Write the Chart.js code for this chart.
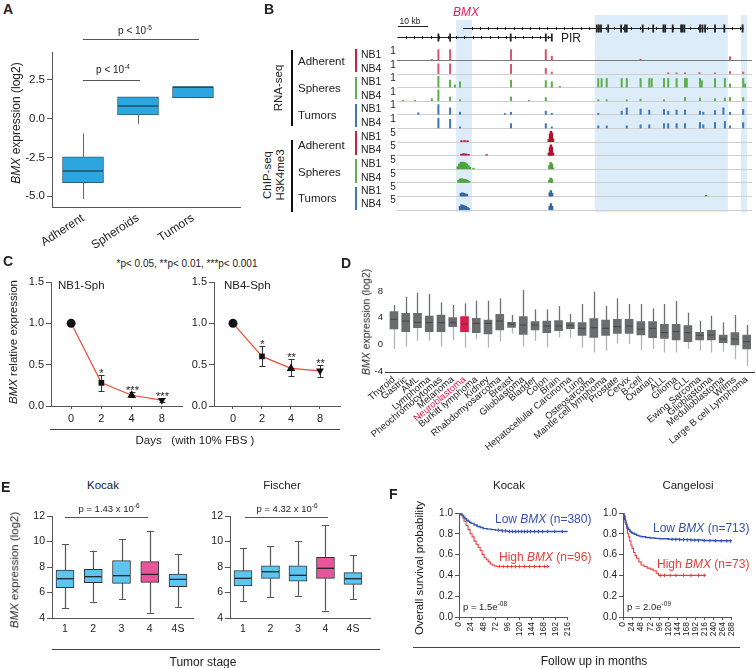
<!DOCTYPE html>
<html>
<head>
<meta charset="utf-8">
<script src="https://cdn.jsdelivr.net/npm/chart.js@4.4.0/dist/chart.umd.min.js"></script>
<style>
body{margin:0;background:#fff;}
#fig{position:relative;width:756px;height:668px;overflow:hidden;background:#fff;font-family:'Liberation Sans',Arial,sans-serif;color:#222;}
.t{position:absolute;white-space:nowrap;font-size:11px;line-height:1;color:#222;}
.t sup{font-size:6.5px;vertical-align:top;position:relative;top:-1px;}
canvas{position:absolute;}
</style>
</head>
<body>
<div id="fig"></div>
<script>
// ---------- panel A ----------
var aGroups = ['Adherent', 'Spheroids', 'Tumors'];
var aQ1 = [-4.14, 0.24, 1.36];
var aQ3 = [-2.46, 1.42, 2.07];
var aMed = [-3.38, 0.82, 2.03];
var aLo = [-5.2, -0.36, 1.32];
var aHi = [-0.95, 1.42, 2.1];
var aTicks = [-5, -2.5, 0, 2.5];

// ---------- panel B (kb, relative height) ----------
var shadeRegions = [[19.7, 25.0], [66.0, 110.3], [114.7, 116.7]];
var bmxExons = [66.6, 67.3, 68.0, 70.4, 74.7, 76.0, 76.6, 81.9, 85.4, 88.8, 89.4, 91.9, 94.7, 95.2, 95.8, 101.0, 101.8, 102.7, 106.0, 109.1, 115.2];
var pirExons = [13.8, 17.7, 37.9, 49.6, 51.6];
var rnaAdhNB1 = [[11.6,0.05],[13.8,0.95],[17.7,0.95],[38.0,0.95],[49.6,0.95],[51.6,0.35],[81.2,0.08],[111.0,0.3]];
var rnaAdhNB4 = [[13.8,0.9],[17.7,0.9],[38.0,0.85],[49.6,0.5],[51.6,0.15],[90.4,0.08],[93.2,0.08],[96.0,0.08],[100.8,0.1],[106.0,0.08],[111.0,0.2],[115.4,0.15]];
var rnaSphNB1 = [[13.8,1.0],[17.7,0.65],[19.3,0.2],[21.0,0.5],[38.0,0.65],[49.6,0.6],[51.6,0.5],[54.3,0.08],[67.1,0.8],[68.2,0.8],[69.9,0.8],[74.9,0.8],[76.6,0.8],[81.2,0.8],[84.1,0.8],[84.9,0.8],[89.0,0.8],[90.4,0.8],[93.2,0.8],[96.0,0.8],[96.6,0.8],[101.0,0.8],[101.6,0.6],[106.0,0.8],[109.3,0.8],[111.0,0.3],[115.4,0.8],[116.0,0.3]];
var rnaSphNB4 = [[2.0,0.05],[6.0,0.05],[11.6,0.2],[13.8,1.0],[17.7,0.35],[21.0,0.1],[38.0,0.35],[44.0,0.05],[49.6,0.3],[67.1,0.1],[69.9,0.1],[76.6,0.1],[81.2,0.15],[89.0,0.1],[96.0,0.3],[101.0,0.25],[106.0,0.2],[109.3,0.25],[111.0,0.3],[115.4,0.3]];
var rnaTumNB1 = [[7.1,0.15],[13.8,0.9],[17.7,0.6],[21.0,0.2],[36.0,0.08],[38.0,0.2],[49.6,0.3],[51.6,0.1],[67.1,0.1],[74.9,0.3],[76.6,0.6],[81.2,0.5],[84.1,0.4],[89.0,0.45],[90.4,0.3],[93.2,0.4],[96.0,0.4],[101.0,0.3],[102.1,0.2],[106.0,0.35],[108.8,0.6],[111.0,0.2],[115.4,0.45]];
var rnaTumNB4 = [[13.8,0.9],[17.7,0.8],[21.0,0.1],[38.0,0.4],[49.6,0.4],[51.6,0.1],[67.1,0.2],[69.9,0.2],[76.6,0.2],[81.2,0.3],[84.1,0.3],[89.0,0.4],[90.4,0.4],[93.2,0.4],[96.0,0.4],[101.0,0.5],[102.1,0.3],[106.0,0.5],[109.3,0.6],[111.0,0.2],[115.4,0.5]];
var chipAdhNB1 = [[21.5,0.08],[22.5,0.1],[23.5,0.08],[50.6,0.2],[51.0,0.7],[51.3,0.95],[51.6,0.8],[52.0,0.25]];
var chipAdhNB4 = [[21.5,0.1],[22.2,0.15],[23.0,0.12],[23.8,0.08],[29.9,0.05],[50.6,0.2],[51.0,0.7],[51.3,0.95],[51.6,0.75],[52.0,0.2]];
var chipSphNB1 = [[20.2,0.2],[20.8,0.45],[21.3,0.6],[21.8,0.62],[22.3,0.6],[22.8,0.55],[23.3,0.45],[23.8,0.3],[24.3,0.15],[25.5,0.05],[50.8,0.3],[51.2,0.6],[51.6,0.45],[52.0,0.1]];
var chipSphNB4 = [[20.5,0.2],[21.0,0.3],[21.5,0.35],[22.0,0.3],[22.5,0.28],[23.0,0.25],[23.5,0.2],[24.0,0.1],[50.8,0.2],[51.2,0.4],[51.6,0.3]];
var chipTumNB1 = [[21.3,0.25],[21.8,0.3],[22.3,0.25],[22.8,0.2],[23.3,0.15],[50.9,0.3],[51.3,0.5],[51.7,0.25],[103.0,0.05]];
var chipTumNB4 = [[21.0,0.3],[21.5,0.45],[22.0,0.4],[22.5,0.35],[23.0,0.3],[23.5,0.2],[24.0,0.1],[50.9,0.3],[51.3,0.55],[51.7,0.3]];

// ---------- panel C ----------
var cDays = ['0', '2', '4', '8'];
var nb1Mean = [1.0, 0.28, 0.13, 0.07];
var nb1Lo = [1.0, 0.18, 0.11, 0.052];
var nb1Hi = [1.0, 0.38, 0.165, 0.093];
var nb1Stars = ['', '*', '***', '***'];
var nb4Mean = [1.0, 0.60, 0.455, 0.425];
var nb4Lo = [1.0, 0.487, 0.36, 0.35];
var nb4Hi = [1.0, 0.72, 0.565, 0.495];
var nb4Stars = ['', '*', '**', '**'];
var cTicks = [0, 0.5, 1.0, 1.5];

// ---------- panel D ----------
var dLabels = ['Thyroid','Gastric','AML','Lymphoma','Pheochromocytomas','Melanoma','Neuroblastoma','Burkitt lymphoma','Kidney','Rhabdomyosarcoma','Breast','Glioblastoma','Bladder','Colon','Brain','Hepatocellular Carcinoma','Lung','Osteosarcoma','Mantle cell lymphoma','Prostate','Cervix','B-cell','Ovarian','ALL','Glioma','CLL','Ewing Sarcoma','Glioblastoma','Medulloblastoma','Wilms','Large B cell Lymphoma'];
var dHi = [5.9,7.15,7.75,7.55,6.3,5.9,6.15,6.55,6.55,6.9,4.4,8.15,5.25,5.25,5.75,4.55,6.05,7.9,5.75,6.9,6.05,6.05,5.4,6.05,6.5,4.75,3.55,4.3,3.3,4.4,2.9];
var dQ3 = [4.9,4.65,4.65,4.25,4.4,4.0,4.15,3.9,3.65,4.5,3.3,4.15,3.4,3.5,3.55,3.25,3.25,3.85,3.65,3.75,3.75,3.4,3.4,3.0,3.0,2.8,1.8,2.1,1.4,1.75,1.4];
var dMed = [3.75,3.5,3.3,3.25,3.25,3.25,3.05,3.15,3.15,3.5,3.05,2.9,2.9,2.75,2.75,2.85,2.4,2.5,2.4,2.65,2.75,2.25,2.4,1.75,1.9,1.75,1.35,1.4,0.8,0.8,0.4];
var dQ1 = [2.3,1.9,2.5,1.9,1.9,2.65,1.9,1.75,1.55,2.15,2.55,1.5,2.15,1.75,2.05,2.35,1.35,1.05,1.35,1.65,1.65,1.4,1.0,0.9,0.65,0.4,0.65,0.65,0.25,-0.1,-0.7];
var dLo = [-0.7,-0.35,0.55,0.55,-0.35,0.65,-0.5,0.75,-0.5,0.4,1.65,-0.35,0.5,-0.45,1.05,1.05,-0.5,-1.25,-0.95,0.15,0.05,-0.85,-0.7,-1.25,-1.25,-0.7,-0.95,-1.25,-1.1,-2.25,-3.25];
var dTicks = [-4, 0, 4, 8];

// ---------- panel E ----------
var eStages = ['1', '2', '3', '4', '4S'];
var kocakQ1 = [6.38, 6.77, 6.72, 6.80, 6.46];
var kocakQ3 = [7.76, 7.82, 8.50, 8.42, 7.45];
var kocakMed = [7.08, 7.24, 7.32, 7.42, 7.03];
var kocakLo = [4.78, 5.28, 5.46, 4.42, 4.89];
var kocakHi = [9.80, 9.28, 10.17, 10.85, 8.99];
var fischerQ1 = [6.51, 7.11, 6.88, 7.11, 6.64];
var fischerQ3 = [7.71, 8.10, 8.10, 8.76, 7.56];
var fischerMed = [7.11, 7.63, 7.35, 7.90, 7.08];
var fischerLo = [5.36, 5.62, 5.75, 4.58, 5.46];
var fischerHi = [9.46, 9.65, 10.01, 11.29, 8.94];
var eTicks = [4, 6, 8, 10, 12];

// ---------- panel F ----------
var kocakLowT = [0, 3, 6, 9, 12, 15, 18, 21, 24, 30, 36, 42, 48, 56, 64, 72, 84, 96, 216];
var kocakLowS = [1, 0.99, 0.975, 0.96, 0.945, 0.93, 0.92, 0.91, 0.9, 0.885, 0.87, 0.86, 0.85, 0.845, 0.84, 0.835, 0.828, 0.822, 0.822];
var kocakHighT = [0, 4, 8, 10, 14, 18, 22, 26, 30, 34, 38, 42, 46, 50, 54, 58, 62, 66, 70, 74, 180];
var kocakHighS = [1, 0.98, 0.95, 0.92, 0.88, 0.84, 0.8, 0.77, 0.73, 0.7, 0.67, 0.64, 0.6, 0.57, 0.55, 0.53, 0.51, 0.5, 0.49, 0.485, 0.485];
var kocakLowCens = [[78,0.835],[86,0.828],[92,0.828],[100,0.822],[106,0.822],[112,0.822],[118,0.822],[124,0.822],[130,0.822],[136,0.822],[142,0.822],[150,0.822],[158,0.822],[166,0.822],[176,0.822],[190,0.822],[205,0.822]];
var kocakHighCens = [[80,0.485],[88,0.485],[96,0.485],[104,0.485],[112,0.485],[120,0.485],[130,0.485],[140,0.485],[150,0.485],[160,0.485],[170,0.485],[176,0.485]];
var cangLowT = [0, 2, 4, 6, 8, 10, 12, 15, 18, 21, 24, 30, 36, 42, 48, 60, 72, 84, 96, 120, 150, 180, 210, 240, 288];
var cangLowS = [1, 0.97, 0.94, 0.91, 0.89, 0.87, 0.855, 0.84, 0.825, 0.815, 0.806, 0.795, 0.785, 0.778, 0.772, 0.765, 0.76, 0.756, 0.752, 0.748, 0.744, 0.74, 0.736, 0.733, 0.73];
var cangHighT = [0, 3, 6, 8, 10, 12, 15, 18, 21, 24, 28, 32, 36, 42, 48, 56, 64, 72, 80, 88, 94, 220];
var cangHighS = [1, 0.97, 0.93, 0.90, 0.85, 0.80, 0.77, 0.73, 0.69, 0.66, 0.62, 0.59, 0.565, 0.53, 0.50, 0.485, 0.47, 0.46, 0.445, 0.42, 0.40, 0.40];
var cangLowCens = [[130,0.746],[140,0.745],[150,0.744],[160,0.743],[170,0.741],[180,0.74],[190,0.739],[200,0.737],[215,0.735],[230,0.734],[245,0.733],[260,0.732],[275,0.731],[285,0.73]];
var cangHighCens = [[100,0.4],[110,0.4],[125,0.4],[140,0.4],[160,0.4],[180,0.4],[200,0.4],[215,0.4]];
var fTicks = [0, 0.2, 0.4, 0.6, 0.8, 1.0];
var kocakMonths = [0, 24, 48, 72, 96, 120, 144, 168, 192, 216];
var cangMonths = [0, 24, 48, 72, 96, 120, 144, 168, 192, 216, 240, 264, 288];

var FONT = "'Liberation Sans', Arial, sans-serif";
Chart.defaults.font.family = FONT;
Chart.defaults.color = '#222';
Chart.defaults.animation = false;

var fig = document.getElementById('fig');

function mkCanvas(left, top, w, h) {
    var c = document.createElement('canvas');
    c.width = w; c.height = h;
    c.style.left = left + 'px'; c.style.top = top + 'px';
    c.style.width = w + 'px'; c.style.height = h + 'px';
    fig.appendChild(c);
    return c;
}
function txt(html, x, y, css, anchor, rot) {
    var d = document.createElement('div');
    d.className = 't';
    d.innerHTML = html;
    d.style.left = x + 'px';
    d.style.top = y + 'px';
    if (css) d.style.cssText += css;
    var tx = anchor == 'l' ? '0' : (anchor == 'r' ? '-100%' : '-50%');
    d.style.transform = 'translate(' + tx + ',-50%)' + (rot ? ' rotate(' + rot + 'deg)' : '');
    fig.appendChild(d);
}
function hline(x1, x2, y, color, w) {
    var d = document.createElement('div');
    d.style.cssText = 'position:absolute;left:' + x1 + 'px;top:' + (y - w / 2) + 'px;width:' + (x2 - x1) + 'px;height:' + w + 'px;background:' + color;
    fig.appendChild(d);
}
function vline(x, y1, y2, color, w) {
    var d = document.createElement('div');
    d.style.cssText = 'position:absolute;left:' + (x - w / 2) + 'px;top:' + y1 + 'px;width:' + w + 'px;height:' + (y2 - y1) + 'px;background:' + color;
    fig.appendChild(d);
}

// axis with fixed size and fixed tick list
function numAxis(o) {
    return {
        type: 'linear', min: o.min, max: o.max, offset: false, reverse: !!o.reverse,
        display: o.display !== false,
        afterBuildTicks: function (a) { if (o.ticks) a.ticks = o.ticks.map(function (v) { return {value: v}; }); },
        afterFit: function (a) { if (a.isHorizontal()) a.height = o.size; else a.width = o.size; },
        grid: {display: !!o.tickLen, drawTicks: !!o.tickLen, drawOnChartArea: false, tickLength: o.tickLen || 0, color: o.color || '#555', offset: false},
        border: {display: o.line !== false, color: o.color || '#555', width: 1},
        ticks: {autoSkip: false, font: {size: o.fontSize || 10}, color: o.tickColor || '#222',
            padding: o.pad === undefined ? 2 : o.pad, maxRotation: o.rot || 0, minRotation: o.rot || 0,
            callback: o.fmt}
    };
}

// whiskers + medians for floating-bar boxes
var boxPlugin = {
    id: 'boxWhiskers',
    beforeDatasetsDraw: function (chart) {
        var ds = chart.data.datasets[0], xs = chart.scales.x, ys = chart.scales.y, c = chart.ctx;
        c.save();
        c.lineWidth = ds.whiskerWidth || 1;
        for (var i = 0; i < ds.data.length; i++) {
            var px = Math.round(xs.getPixelForValue(ds.data[i].x)) + 0.5;
            var yq1 = ys.getPixelForValue(ds.data[i].y[0]), yq3 = ys.getPixelForValue(ds.data[i].y[1]);
            var yl = ys.getPixelForValue(ds.lo[i]), yh = ys.getPixelForValue(ds.hi[i]);
            c.strokeStyle = ds.hiColor;
            c.beginPath(); c.moveTo(px, yq3); c.lineTo(px, yh);
            if (ds.cap) { c.moveTo(px - ds.cap, Math.round(yh) + 0.5); c.lineTo(px + ds.cap, Math.round(yh) + 0.5); }
            c.stroke();
            c.strokeStyle = ds.loColor;
            c.beginPath(); c.moveTo(px, yq1); c.lineTo(px, yl);
            if (ds.cap) { c.moveTo(px - ds.cap, Math.round(yl) + 0.5); c.lineTo(px + ds.cap, Math.round(yl) + 0.5); }
            c.stroke();
        }
        c.restore();
    },
    afterDatasetsDraw: function (chart) {
        var ds = chart.data.datasets[0], xs = chart.scales.x, ys = chart.scales.y, c = chart.ctx;
        c.save();
        c.strokeStyle = ds.medColor;
        c.lineWidth = ds.medWidth;
        for (var i = 0; i < ds.data.length; i++) {
            var px = xs.getPixelForValue(ds.data[i].x), py = ys.getPixelForValue(ds.med[i]);
            var hw = ds.barThickness / 2 - 0.5;
            c.beginPath(); c.moveTo(px - hw, py); c.lineTo(px + hw, py); c.stroke();
        }
        c.restore();
    }
};

function boxChart(cv, o) {
    var data = [];
    for (var i = 0; i < o.q1.length; i++) data.push({x: i, y: [o.q1[i], o.q3[i]]});
    return new Chart(cv, {
        type: 'bar',
        data: {datasets: [{
            data: data, backgroundColor: o.colors, borderColor: o.border, borderWidth: o.borderWidth,
            borderSkipped: false, barThickness: o.boxWidth, grouped: false,
            med: o.med, lo: o.lo, hi: o.hi, hiColor: o.hiColor, loColor: o.loColor,
            cap: o.cap, medColor: o.medColor, medWidth: o.medWidth, whiskerWidth: o.whiskerWidth
        }]},
        options: {
            responsive: false, animation: false, events: [],
            layout: {padding: o.padding},
            plugins: {legend: {display: false}, tooltip: {enabled: false}},
            scales: {x: o.x, y: o.y}
        },
        plugins: [boxPlugin]
    });
}

// ======================= A =======================
txt('A', 3, 9, 'font-size:14px;font-weight:bold;', 'l');
boxChart(mkCanvas(0, 40, 245, 215), {
    q1: aQ1, q3: aQ3, med: aMed, lo: aLo, hi: aHi,
    colors: '#2ba6de', border: '#2d6079', borderWidth: 1, boxWidth: 41,
    medColor: '#214f66', medWidth: 1.5, hiColor: '#666', loColor: '#666', cap: 0, whiskerWidth: 1,
    padding: {top: 12, right: 5, left: 0, bottom: 0},
    x: numAxis({min: -0.564, max: 2.855, ticks: [0, 1, 2], size: 48, tickLen: 0, rot: 33, fontSize: 12, pad: 4,
        fmt: function (v) { return aGroups[v]; }}),
    y: numAxis({min: -5.71, max: 4.31, ticks: aTicks, size: 52, tickLen: 5, fontSize: 11.5,
        fmt: function (v) { return v.toFixed(1); }})
});
txt('<i>BMX</i> expression (log2)', 16, 123, 'font-size:12px;', 'c', -90);
hline(83, 140, 80, '#555', 1);
txt('p &lt; 10<sup>-4</sup>', 113, 70, 'font-size:10px;');
hline(83, 199, 39, '#555', 1);
txt('p &lt; 10<sup>-5</sup>', 135, 31, 'font-size:10px;');

// ======================= B =======================
txt('B', 264, 9, 'font-size:14px;font-weight:bold;', 'l');
var bTracks = [rnaAdhNB1, rnaAdhNB4, rnaSphNB1, rnaSphNB4, rnaTumNB1, rnaTumNB4,
    chipAdhNB1, chipAdhNB4, chipSphNB1, chipSphNB4, chipTumNB1, chipTumNB4];
var bColors = ['#d45a72', '#d45a72', '#5fb04a', '#5fb04a', '#3f78b8', '#3f78b8',
    '#b3102f', '#b3102f', '#4fa43c', '#4fa43c', '#33689f', '#33689f'];
var bTops = [-1.94, -2.31, -2.31];

function drawGene(c, xs, ys, lvl, x0, x1, exons, tickStep) {
    var y = Math.round(ys.getPixelForValue(lvl)) + 0.5;
    c.strokeStyle = '#222'; c.fillStyle = '#222'; c.lineWidth = 1;
    c.beginPath(); c.moveTo(xs.getPixelForValue(x0), y); c.lineTo(xs.getPixelForValue(x1), y); c.stroke();
    c.beginPath();
    for (var k = x0 + tickStep; k < x1; k += tickStep) {
        var px = Math.round(xs.getPixelForValue(k)) + 0.5;
        c.moveTo(px, y - 1.5); c.lineTo(px, y + 1.5);
    }
    c.stroke();
    exons.forEach(function (e) {
        var px = xs.getPixelForValue(e);
        c.fillRect(px - 0.9, y - 4, 1.8, 8);
    });
}

var trackPlugin = {
    id: 'tracks',
    beforeDatasetsDraw: function (chart) {
        var xs = chart.scales.x, ys = chart.scales.y, c = chart.ctx;
        c.save();
        c.fillStyle = '#dcedf9';
        shadeRegions.forEach(function (r, i) {
            var x1 = xs.getPixelForValue(r[0]), x2 = xs.getPixelForValue(r[1]);
            var y1 = ys.getPixelForValue(bTops[i]), y2 = ys.getPixelForValue(12.18);
            c.fillRect(x1, y1, x2 - x1, y2 - y1);
        });
        for (var i = 0; i < 12; i++) {
            var y = Math.round(ys.getPixelForValue(i + 1)) + 0.5;
            c.strokeStyle = i == 0 ? '#7a7a7a' : '#cfcfcf';
            c.lineWidth = 1;
            c.beginPath(); c.moveTo(xs.getPixelForValue(0), y); c.lineTo(xs.getPixelForValue(118.3), y); c.stroke();
        }
        drawGene(c, xs, ys, -1.353, 22.1, 115.6, bmxExons, 2.8);
        drawGene(c, xs, ys, -0.691, 0.1, 51.7, pirExons, 2.8);
        // 10 kb scale bar
        var sy = Math.round(ys.getPixelForValue(-1.5)) + 0.5;
        c.strokeStyle = '#222';
        c.beginPath(); c.moveTo(xs.getPixelForValue(0.3), sy); c.lineTo(xs.getPixelForValue(10.3), sy); c.stroke();
        c.restore();
    }
};

new Chart(mkCanvas(390, 0, 366, 215), {
    type: 'bar',
    data: {datasets: bTracks.map(function (peaks, i) {
        return {
            data: peaks.map(function (p) { return {x: p[0], y: [i + 1, i + 1 - p[1] * 0.8]}; }),
            backgroundColor: bColors[i], borderWidth: 0, barThickness: i < 6 ? 1.4 : 1.8, grouped: false
        };
    })},
    options: {
        responsive: false, animation: false, events: [],
        layout: {padding: 0},
        plugins: {legend: {display: false}, tooltip: {enabled: false}},
        scales: {
            x: {type: 'linear', display: false, min: -2.333, max: 119.667, offset: false},
            y: {type: 'linear', display: false, min: -3.412, max: 12.397, reverse: true}
        }
    },
    plugins: [trackPlugin]
});
txt('<i>BMX</i>', 466, 12, 'font-size:12px;color:#e0245e;');
txt('10 kb', 410, 21, 'font-size:8.5px;');
txt('PIR', 561, 38, 'font-size:12px;', 'l');
txt('RNA-seq', 279, 88, 'font-size:11.5px;', 'c', -90);
txt('ChIP-seq', 268, 175, 'font-size:11.5px;', 'c', -90);
txt('H3K4me3', 281, 175, 'font-size:11.5px;', 'c', -90);
vline(292, 50, 126, '#111', 1.5);
vline(292, 140, 212, '#111', 1.5);
var bGroups = ['Adherent', 'Spheres', 'Tumors', 'Adherent', 'Spheres', 'Tumors'];
var bGroupY = [62, 89, 116, 146, 173, 199];
var bBarCol = ['#c8203f', '#5fb04a', '#3f78b8', '#c8203f', '#5fb04a', '#3f78b8'];
var bBarY = [[49, 72], [77, 99], [104, 127], [131, 155], [159, 183], [187, 210]];
for (var g = 0; g < 6; g++) {
    txt(bGroups[g], 298, bGroupY[g], 'font-size:11.5px;', 'l');
    vline(356, bBarY[g][0], bBarY[g][1], bBarCol[g], 2);
}
var nbY = [54, 68, 81, 95, 108, 122, 136, 149, 163, 177, 190, 203];
for (var k = 0; k < 12; k++) {
    txt(k % 2 == 0 ? 'NB1' : 'NB4', 361, nbY[k], 'font-size:10.5px;', 'l');
    txt(k < 6 ? '1' : '5', 393, nbY[k] - 3, 'font-size:10px;');
}

// ======================= C =======================
txt('C', 3, 261, 'font-size:14px;font-weight:bold;', 'l');
txt('*p&lt; 0.05, **p&lt; 0.01, ***p&lt; 0.001', 187, 264, 'font-size:10px;');
var markers = ['circle', 'rect', 'triangle', 'triangle'];

var errPlugin = {
    id: 'errBars',
    beforeDatasetsDraw: function (chart) {
        var ds = chart.data.datasets[0], xs = chart.scales.x, ys = chart.scales.y, c = chart.ctx;
        c.save();
        c.strokeStyle = '#333'; c.lineWidth = 1;
        c.fillStyle = '#222'; c.font = '11px ' + FONT; c.textAlign = 'center'; c.textBaseline = 'alphabetic';
        for (var i = 0; i < ds.data.length; i++) {
            if (ds.errHi[i] == ds.errLo[i]) continue;
            var px = Math.round(xs.getPixelForValue(ds.data[i].x)) + 0.5;
            var yl = Math.round(ys.getPixelForValue(ds.errLo[i])) + 0.5, yh = Math.round(ys.getPixelForValue(ds.errHi[i])) + 0.5;
            c.beginPath();
            c.moveTo(px, yl); c.lineTo(px, yh);
            c.moveTo(px - 3, yl); c.lineTo(px + 3, yl);
            c.moveTo(px - 3, yh); c.lineTo(px + 3, yh);
            c.stroke();
            c.fillText(ds.stars[i], px, yh + 1);
        }
        c.restore();
    }
};

function daysChart(cv, mean, lo, hi, stars, xmin, xmax, padRight) {
    return new Chart(cv, {
        type: 'line',
        data: {datasets: [{
            data: mean.map(function (v, i) { return {x: i, y: v}; }),
            borderColor: '#ee4a3a', borderWidth: 1.2, tension: 0,
            pointStyle: markers, pointRotation: [0, 0, 0, 180], pointRadius: [4.5, 4, 5, 4.5],
            pointBackgroundColor: '#111', pointBorderColor: '#111', pointBorderWidth: 0,
            errLo: lo, errHi: hi, stars: stars
        }]},
        options: {
            responsive: false, animation: false, events: [],
            layout: {padding: {top: 10, right: padRight, left: 0, bottom: 0}},
            plugins: {legend: {display: false}, tooltip: {enabled: false}},
            scales: {
                x: numAxis({min: xmin, max: xmax, ticks: [0, 1, 2, 3], size: 26, tickLen: 3, fontSize: 11, pad: 3,
                    fmt: function (v) { return cDays[v]; }}),
                y: numAxis({min: 0, max: 1.5, ticks: cTicks, size: 51, tickLen: 5, fontSize: 11, pad: 2,
                    fmt: function (v) { return v.toFixed(1); }})
            }
        },
        plugins: [errPlugin]
    });
}
daysChart(mkCanvas(0, 272, 190, 160), nb1Mean, nb1Lo, nb1Hi, nb1Stars, -0.667, 3.667, 8);
daysChart(mkCanvas(163, 272, 185, 160), nb4Mean, nb4Lo, nb4Hi, nb4Stars, -0.655, 3.69, 8);
txt('NB1-Sph', 58, 286, 'font-size:11.5px;', 'l');
txt('NB4-Sph', 224, 286, 'font-size:11.5px;', 'l');
txt('<i>BMX</i> relative expression', 14, 342, 'font-size:11.5px;', 'c', -90);
hline(50, 340, 429, '#444', 1);
txt('Days&nbsp;&nbsp; (with 10% FBS )', 195, 441, 'font-size:11.5px;');

// ======================= D =======================
txt('D', 341, 263, 'font-size:14px;font-weight:bold;', 'l');
var dColors = dLabels.map(function (l, i) { return i == 6 ? '#dc1c4a' : '#6b6c6e'; });
boxChart(mkCanvas(358, 275, 398, 200), {
    q1: dQ1, q3: dQ3, med: dMed, lo: dLo, hi: dHi,
    colors: dColors, border: 'rgba(0,0,0,0)', borderWidth: 0, boxWidth: 8,
    medColor: '#3d3d3d', medWidth: 0.8, hiColor: '#707070', loColor: '#b4b4b4', cap: 0, whiskerWidth: 1.3,
    padding: {top: 8, right: 0, left: 0, bottom: 0},
    x: numAxis({min: -0.763, max: 30.68, ticks: dLabels.map(function (l, i) { return i; }), size: 103, tickLen: 0, rot: 40,
        fontSize: 9.5, pad: 2, color: '#333',
        tickColor: function (ctx) { return ctx.index == 6 ? '#e5194b' : '#222'; },
        fmt: function (v) { return dLabels[Math.round(v)]; }}),
    y: numAxis({min: -4.15, max: 9.2, ticks: dTicks, size: 27, tickLen: 0, line: false, fontSize: 9.5, pad: 2,
        fmt: function (v) { return String(v); }})
});
txt('<i>BMX</i> expression (log2)', 366, 322, 'font-size:10.5px;', 'c', -90);

// ======================= E =======================
txt('E', 1, 487, 'font-size:14px;font-weight:bold;', 'l');
var eColors = ['#5cc6f0', '#5cc6f0', '#5cc6f0', '#e9559a', '#5cc6f0'];
function stageChart(cv, q1, q3, med, lo, hi, xmin, xmax, padRight) {
    return boxChart(cv, {
        q1: q1, q3: q3, med: med, lo: lo, hi: hi,
        colors: eColors, border: '#333', borderWidth: 1, boxWidth: 18,
        medColor: '#222', medWidth: 1.3, hiColor: '#555', loColor: '#555', cap: 3.5, whiskerWidth: 1.2,
        padding: {top: 11, right: padRight, left: 0, bottom: 0},
        x: numAxis({min: xmin, max: xmax, ticks: [0, 1, 2, 3, 4], size: 27, tickLen: 0, fontSize: 10.5, pad: 5,
            fmt: function (v) { return eStages[v]; }}),
        y: numAxis({min: 4, max: 12, ticks: eTicks, size: 52, tickLen: 5, fontSize: 10.5, pad: 2,
            fmt: function (v) { return String(v); }})
    });
}
stageChart(mkCanvas(0, 505, 200, 140), kocakQ1, kocakQ3, kocakMed, kocakLo, kocakHi, -0.46, 4.53, 7);
stageChart(mkCanvas(178, 505, 200, 140), fischerQ1, fischerQ3, fischerMed, fischerLo, fischerHi, -0.473, 4.62, 8);
txt('<span style="color:#1a1a1a">Kocak</span>', 103, 486, 'font-size:11.5px;');
txt('Fischer', 282, 486, 'font-size:11.5px;');
hline(65, 148, 517, '#555', 1);
txt('p = 1.43 x 10<sup>-6</sup>', 109, 509, 'font-size:9.5px;');
hline(245, 328, 517, '#555', 1);
txt('p = 4.32 x 10<sup>-6</sup>', 287, 509, 'font-size:9.5px;');
txt('<i>BMX</i> expression (log2)', 15, 570, 'font-size:11.5px;', 'c', -90);
hline(52, 380, 649, '#444', 1);
txt('Tumor stage', 203, 662, 'font-size:12px;');

// ======================= F =======================
txt('F', 389, 494, 'font-size:14px;font-weight:bold;', 'l');
var blueKM = '#3651b4', redKM = '#e2403d';
function pairs(t, s) { return t.map(function (v, i) { return {x: v, y: s[i]}; }); }
function cens(list) { return list.map(function (p) { return {x: p[0], y: p[1]}; }); }
function kmChart(cv, lowT, lowS, highT, highS, lowC, highC, xmax, months, padRight) {
    return new Chart(cv, {
        type: 'line',
        data: {datasets: [
            {data: pairs(lowT, lowS), borderColor: blueKM, borderWidth: 1.4, stepped: true, pointRadius: 0},
            {data: pairs(highT, highS), borderColor: redKM, borderWidth: 1.1, stepped: true, pointRadius: 0},
            {data: cens(lowC), showLine: false, pointStyle: 'line', pointRotation: 90, pointRadius: 1.8, borderColor: blueKM, pointBorderWidth: 1},
            {data: cens(highC), showLine: false, pointStyle: 'line', pointRotation: 90, pointRadius: 1.8, borderColor: redKM, pointBorderWidth: 1}
        ]},
        options: {
            responsive: false, animation: false, events: [],
            layout: {padding: {top: 8, right: padRight, left: 0, bottom: 0}},
            plugins: {legend: {display: false}, tooltip: {enabled: false}},
            scales: {
                x: numAxis({min: 0, max: xmax, ticks: months, size: 33, tickLen: 3, rot: 90, fontSize: 8.5, pad: 2,
                    fmt: function (v) { return String(v); }}),
                y: numAxis({min: 0, max: 1, ticks: fTicks, size: 39, tickLen: 4, fontSize: 10, pad: 2,
                    fmt: function (v) { return v.toFixed(1); }})
            }
        }
    });
}
kmChart(mkCanvas(420, 505, 160, 145), kocakLowT, kocakLowS, kocakHighT, kocakHighS, kocakLowCens, kocakHighCens, 216, kocakMonths, 6);
kmChart(mkCanvas(584, 505, 160, 145), cangLowT, cangLowS, cangHighT, cangHighS, cangLowCens, cangHighCens, 288, cangMonths, 7);
txt('Kocak', 509, 486, 'font-size:11.5px;');
txt('Cangelosi', 688, 486, 'font-size:11.5px;');
txt('Low <i>BMX</i> (n=380)', 495, 519, 'font-size:12px;color:' + blueKM + ';', 'l');
txt('High <i>BMX</i> (n=96)', 499, 557, 'font-size:12px;color:' + redKM + ';', 'l');
txt('p = 1.5e<sup>-08</sup>', 463, 607, 'font-size:9.5px;', 'l');
txt('Low <i>BMX</i> (n=713)', 653, 528, 'font-size:12px;color:' + blueKM + ';', 'l');
txt('High <i>BMX</i> (n=73)', 657, 564, 'font-size:12px;color:' + redKM + ';', 'l');
txt('p = 2.0e<sup>-09</sup>', 627, 607, 'font-size:9.5px;', 'l');
txt('Overall survival probability', 420, 568, 'font-size:11.5px;', 'c', -90);
hline(413, 740, 647, '#444', 1);
txt('Follow up in months', 594, 661, 'font-size:12px;');
</script>
</body>
</html>
